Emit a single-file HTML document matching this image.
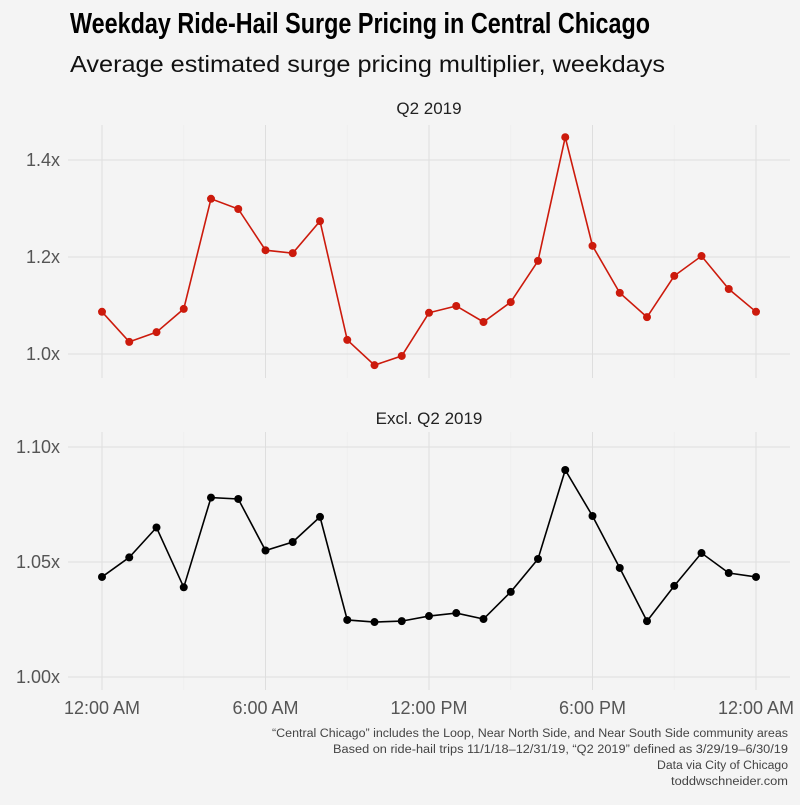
<!DOCTYPE html>
<html><head><meta charset="utf-8"><style>
body{margin:0;background:#f4f4f4;}
svg text{font-family:"Liberation Sans",sans-serif;}
</style></head><body>
<svg id="chart" width="800" height="800" xmlns="http://www.w3.org/2000/svg">
<rect width="800" height="800" fill="#f4f4f4"/>
<text x="70" y="33" font-size="29" font-weight="bold" fill="#000" textLength="580" lengthAdjust="spacingAndGlyphs">Weekday Ride-Hail Surge Pricing in Central Chicago</text>
<text x="70" y="72" font-size="23" fill="#111" textLength="595" lengthAdjust="spacingAndGlyphs">Average estimated surge pricing multiplier, weekdays</text>
<g id="top"></g>
<g id="bot"></g>
<g id="xax"></g>
<g font-size="11.5" fill="#444" text-anchor="end">
<text x="788" y="737" textLength="516" lengthAdjust="spacingAndGlyphs">“Central Chicago” includes the Loop, Near North Side, and Near South Side community areas</text>
<text x="788" y="753" textLength="455" lengthAdjust="spacingAndGlyphs">Based on ride-hail trips 11/1/18–12/31/19, “Q2 2019” defined as 3/29/19–6/30/19</text>
<text x="788" y="769" textLength="131" lengthAdjust="spacingAndGlyphs">Data via City of Chicago</text>
<text x="788" y="785" textLength="117" lengthAdjust="spacingAndGlyphs">toddwschneider.com</text>
</g>
</svg>
<script>
const hours=[0,1,2,3,4,5,6,7,8,9,10,11,12,13,14,15,16,17,18,19,20,21,22,23,24];
const q2Values=[1.087,1.025,1.045,1.093,1.320,1.299,1.214,1.208,1.274,1.029,0.977,0.996,1.085,1.099,1.066,1.107,1.192,1.447,1.223,1.126,1.076,1.161,1.202,1.134,1.087];
const exclValues=[1.0435,1.052,1.065,1.039,1.078,1.0774,1.055,1.0587,1.0696,1.0248,1.0239,1.0243,1.0265,1.0278,1.0252,1.037,1.0513,1.09,1.07,1.0474,1.0243,1.0396,1.0539,1.0452,1.0435];
const q2Ticks=[1.0,1.2,1.4];
const q2TickLabels=["1.0x","1.2x","1.4x"];
const exclTicks=[1.00,1.05,1.10];
const exclTickLabels=["1.00x","1.05x","1.10x"];
const xTicks=[0,6,12,18,24];
const xTickLabels=["12:00 AM","6:00 AM","12:00 PM","6:00 PM","12:00 AM"];
const NS="http://www.w3.org/2000/svg";
function mk(tag,attrs,parent){const e=document.createElementNS(NS,tag);for(const k in attrs)e.setAttribute(k,attrs[k]);parent.appendChild(e);return e;}
const x=h=>102+h*(756-102)/24;
function panel(g,vals,ticks,labels,yTop,yBot,y,color,title,titleY){
  const t=mk('text',{x:429,y:titleY,'font-size':17,fill:'#222','text-anchor':'middle'},g);t.textContent=title;
  
  
  for(let h=0;h<=24;h+=3){const l=mk('line',{x1:x(h),x2:x(h),y1:yTop,y2:yBot,stroke:h%6==0?'#dedede':'#efefef','stroke-width':1},g);
    
    }
  ticks.forEach((v,i)=>{const l=mk('line',{x1:68,x2:790,y1:y(v),y2:y(v),stroke:'#dedede'},g);
    
    
    const tx=mk('text',{x:60,y:y(v)+6,'font-size':18,fill:'#555','text-anchor':'end'},g);tx.textContent=labels[i];
    
    });
  const p=mk('polyline',{points:vals.map((v,i)=>x(hours[i])+','+y(v)).join(' '),fill:'none',stroke:color,'stroke-width':1.6},g);
  
  
  vals.forEach((v,i)=>{const c=mk('circle',{cx:x(hours[i]),cy:y(v),r:4,fill:color},g);
    
    });
}
panel(document.getElementById('top'),q2Values,q2Ticks,q2TickLabels,125,378,v=>354-(v-1)*485,'#cc1a0c','Q2 2019',114);
panel(document.getElementById('bot'),exclValues,exclTicks,exclTickLabels,432,690,v=>677-(v-1)*2300,'#000','Excl. Q2 2019',424);
const xa=document.getElementById('xax');
xTicks.forEach((h,i)=>{const t=mk('text',{x:x(h),y:714,'font-size':18,fill:'#555','text-anchor':'middle'},xa);t.textContent=xTickLabels[i];
  
  });
</script>
</body></html>
